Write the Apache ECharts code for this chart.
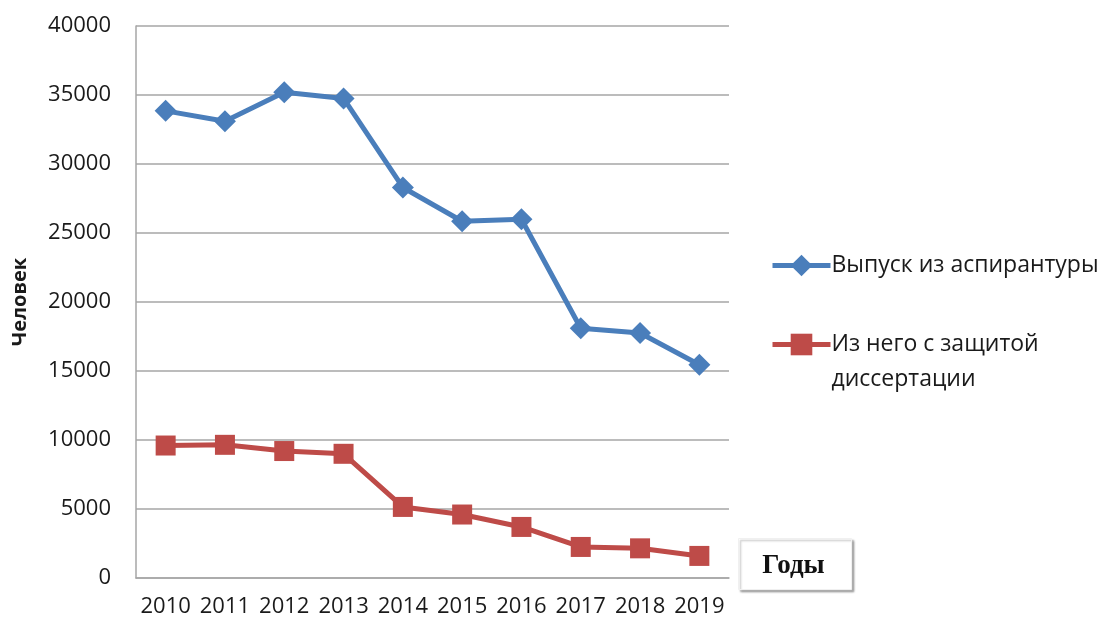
<!DOCTYPE html>
<html>
<head>
<meta charset="utf-8">
<script src="https://cdn.jsdelivr.net/npm/echarts@6/dist/echarts.min.js"></script>
<style>
  html, body { margin: 0; padding: 0; background: #fff; }
  #chart { width: 1097px; height: 624px; }
</style>
</head>
<body>
<div id="chart"></div>
<script>
// Years on the category axis
const years = ['2010', '2011', '2012', '2013', '2014', '2015', '2016', '2017', '2018', '2019'];

// Postgraduate graduates, persons
const graduates = [33850, 33100, 35200, 34750, 28300, 25850, 26000, 18100, 17750, 15450];

// Of them, graduated with a defended dissertation, persons
const defended = [9600, 9650, 9200, 9000, 5150, 4600, 3700, 2250, 2150, 1600];

const seriesNames = ['Выпуск из аспирантуры', 'Из него с защитой диссертации'];

const FONT = '"Open Sans", "Noto Sans", sans-serif';
const BLUE = '#4a7ebb';
const RED = '#be4b48';

const chart = echarts.init(document.getElementById('chart'), null, { renderer: 'canvas' });

const legendBase = {
  left: 765,
  itemWidth: 58,
  itemHeight: 27,
  itemGap: 0,
  lineStyle: { width: 5 },
  textStyle: { color: '#1a1a1a', fontFamily: FONT, fontSize: 23, padding: [0, 0, 0, -4] }
};

chart.setOption({
  animation: false,
  backgroundColor: '#ffffff',
  grid: { left: 136, right: 368, top: 26, bottom: 46, outerBoundsMode: 'none', containLabel: false },
  xAxis: {
    type: 'category',
    data: years,
    boundaryGap: true,
    axisLine: { show: true, lineStyle: { color: '#a6a6a6', width: 1.5 } },
    axisTick: { show: false },
    axisLabel: { interval: 0, color: '#1a1a1a', fontFamily: FONT, fontSize: 22, margin: 18 }
  },
  yAxis: {
    type: 'value',
    min: 0,
    max: 40000,
    interval: 5000,
    name: 'Человек',
    nameLocation: 'middle',
    nameGap: 106,
    nameRotate: 90,
    nameTextStyle: { color: '#1a1a1a', fontFamily: FONT, fontSize: 20, fontWeight: 'bold' },
    axisLine: { show: true, lineStyle: { color: '#a6a6a6', width: 1.5 } },
    axisTick: { show: false },
    splitLine: { show: true, lineStyle: { color: '#a6a6a6', width: 1.5 } },
    axisLabel: {
      color: '#1a1a1a', fontFamily: FONT, fontSize: 22, margin: 25,
      formatter: (v) => String(v)
    }
  },
  legend: [
    Object.assign({}, legendBase, {
      data: [seriesNames[0]],
      top: 249
    }),
    Object.assign({}, legendBase, {
      data: [seriesNames[1]],
      top: 287,
      formatter: () => ' \nИз него с защитой\nдиссертации',
      textStyle: Object.assign({}, legendBase.textStyle, { lineHeight: 35 })
    })
  ],
  series: [
    {
      name: seriesNames[0],
      type: 'line',
      data: graduates,
      symbol: 'diamond',
      symbolSize: 22,
      color: BLUE,
      lineStyle: { color: BLUE, width: 5 },
      itemStyle: { color: BLUE }
    },
    {
      name: seriesNames[1],
      type: 'line',
      data: defended,
      symbol: 'rect',
      symbolSize: 20,
      color: RED,
      lineStyle: { color: RED, width: 5 },
      itemStyle: { color: RED }
    }
  ],
  graphic: [
    {
      type: 'group',
      left: 738,
      top: 538,
      z: 100,
      children: [
        {
          type: 'rect',
          shape: { x: 0, y: 0, width: 113, height: 51 },
          style: {
            fill: '#ffffff',
            stroke: '#f0f0f0',
            lineWidth: 1,
            shadowBlur: 2,
            shadowOffsetX: 2,
            shadowOffsetY: 2,
            shadowColor: 'rgba(0,0,0,0.3)'
          }
        },
        {
          type: 'text',
          x: 55,
          y: 28,
          style: {
            text: 'Годы',
            fill: '#111111',
            font: 'bold 27px "Liberation Serif", "DejaVu Serif", serif',
            align: 'center',
            verticalAlign: 'middle'
          }
        }
      ]
    }
  ]
});
</script>
</body>
</html>
